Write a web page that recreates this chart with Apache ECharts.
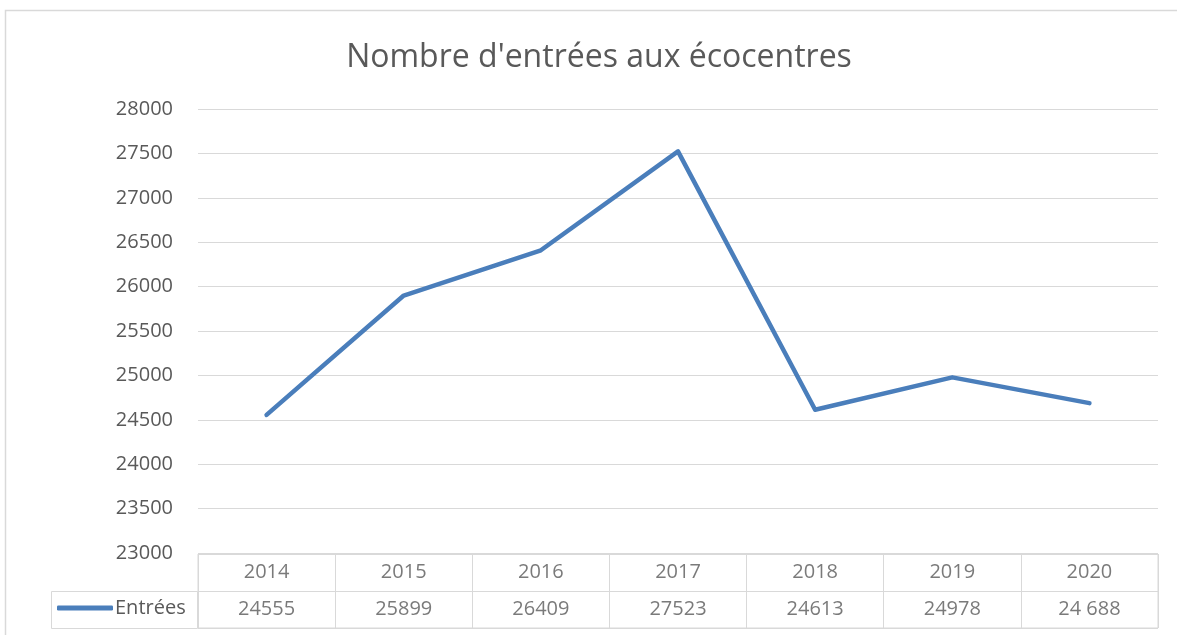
<!DOCTYPE html>
<html>
<head>
<meta charset="utf-8">
<script src="https://cdn.jsdelivr.net/npm/echarts@6/dist/echarts.min.js"></script>
<style>
  html, body { margin: 0; padding: 0; background: #fff; }
  #main { width: 1177px; height: 635px; }
</style>
</head>
<body>
<div id="main"></div>
<script>
// données
var years = ['2014', '2015', '2016', '2017', '2018', '2019', '2020'];
var entrees = [24555, 25899, 26409, 27523, 24613, 24978, 24688];
var entreesText = ['24555', '25899', '26409', '27523', '24613', '24978', '24 688'];
var yMin = 23000, yMax = 28000, yStep = 500;

var grey = '#595959';
var lineGrey = '#d9d9d9';
var blue = '#4a7ebb';
var font = 'Open Sans';

var chart = echarts.init(document.getElementById('main'));

// cellules du tableau de données (ligne 0 = années, ligne 1 = valeurs)
var cells = [];
years.forEach(function (y, i) {
    cells.push([i, 0, y]);
    cells.push([i, 1, entreesText[i]]);
});

var option = {
    animation: false,
    backgroundColor: '#fff',
    title: {
        text: "Nombre d'entrées aux écocentres",
        left: 594,
        top: 37,
        textAlign: 'center',
        textStyle: { color: grey, fontFamily: font, fontSize: 32, fontWeight: 'normal' }
    },
    legend: {
        data: ['Entrées'],
        left: 57,
        top: 598,
        icon: 'roundRect',
        itemWidth: 56,
        itemHeight: 5,
        padding: 0,
        textStyle: { color: grey, fontFamily: font, fontSize: 20, padding: [0, 0, 0, -3] }
    },
    grid: [
        { left: 198, right: 19, top: 109, bottom: 82 },
        { left: 198, right: 19, top: 554, height: 74, show: true, borderColor: lineGrey, borderWidth: 1 }
    ],
    xAxis: [
        {
            type: 'category', gridIndex: 0, data: years, boundaryGap: true,
            axisLine: { show: false }, axisTick: { show: false }, axisLabel: { show: false }
        },
        {
            type: 'category', gridIndex: 1, data: years, boundaryGap: true,
            axisLine: { show: false }, axisTick: { show: false }, axisLabel: { show: false },
            splitLine: { show: true, lineStyle: { color: lineGrey, width: 1 } }
        }
    ],
    yAxis: [
        {
            type: 'value', gridIndex: 0, min: yMin, max: yMax, interval: yStep,
            axisLine: { show: false }, axisTick: { show: false },
            axisLabel: {
                color: grey, fontFamily: font, fontSize: 20, margin: 25,
                formatter: function (v) { return String(v); }
            },
            splitLine: { lineStyle: { color: lineGrey, width: 1 } }
        },
        {
            type: 'category', gridIndex: 1, data: ['annee', 'valeur'], inverse: true, boundaryGap: true,
            axisLine: { show: false }, axisTick: { show: false }, axisLabel: { show: false },
            splitLine: { show: true, lineStyle: { color: lineGrey, width: 1 } }
        }
    ],
    series: [
        {
            name: 'Entrées',
            type: 'line',
            xAxisIndex: 0, yAxisIndex: 0,
            data: entrees,
            symbol: 'none',
            lineStyle: { color: blue, width: 4.5, cap: 'round', join: 'round' },
            itemStyle: { color: blue }
        },
        {
            name: 'table',
            type: 'scatter',
            xAxisIndex: 1, yAxisIndex: 1,
            data: cells,
            symbolSize: 1,
            itemStyle: { color: 'rgba(0,0,0,0)' },
            label: {
                show: true, position: 'inside',
                color: grey, fontFamily: font, fontSize: 20,
                formatter: function (p) { return p.value[2]; }
            },
            silent: true
        }
    ],
    graphic: [
        {
            type: 'rect', silent: true,
            shape: { x: 5.5, y: 10.5, width: 1300, height: 800 },
            style: { fill: null, stroke: lineGrey, lineWidth: 1.5 }
        },
        {
            type: 'rect', silent: true,
            shape: { x: 51.5, y: 591.5, width: 146, height: 37 },
            style: { fill: null, stroke: lineGrey, lineWidth: 1 }
        }
    ]
};

chart.setOption(option);
</script>
</body>
</html>
